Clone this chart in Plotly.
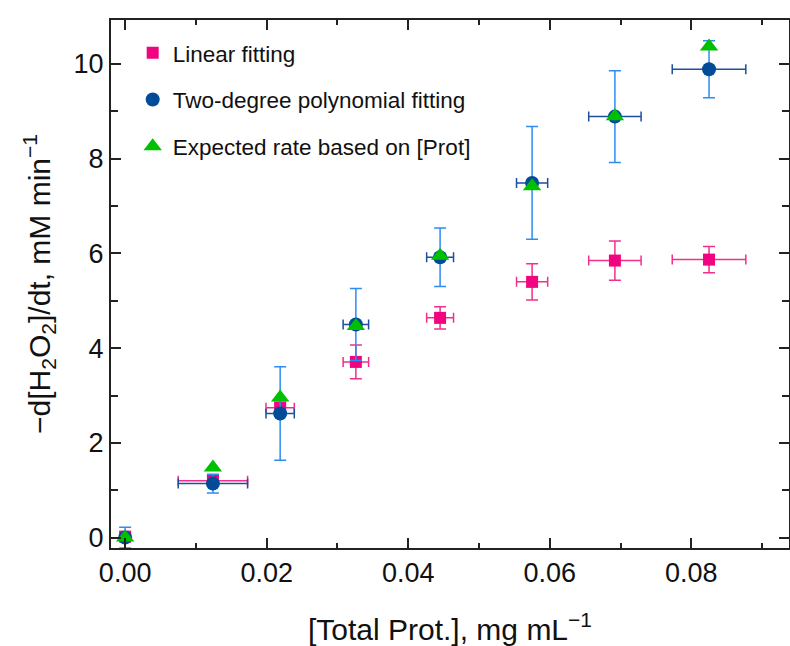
import plotly.graph_objects as go

# Data
prot = [0.0, 0.0124, 0.0219, 0.0326, 0.0445, 0.0575, 0.0692, 0.0825]
prot_err = [0.0, 0.0049, 0.0020, 0.0018, 0.0019, 0.0022, 0.0037, 0.0052]

linear_rate = [0.02, 1.20, 2.74, 3.71, 4.64, 5.40, 5.85, 5.87]
linear_err = [0.05, 0.10, 0.12, 0.355, 0.235, 0.385, 0.415, 0.275]

poly_rate = [0.0, 1.14, 2.62, 4.50, 5.92, 7.49, 8.89, 9.89]
poly_err = [0.22, 0.20, 0.985, 0.76, 0.62, 1.19, 0.97, 0.60]

expected_rate = [0.0, 1.48, 2.96, 4.47, 5.95, 7.42, 8.90, 10.37]

x_ticks = [0.00, 0.02, 0.04, 0.06, 0.08]
y_ticks = [0, 2, 4, 6, 8, 10]

FONT = "Liberation Sans, Arial, sans-serif"
PINK = "#F0047F"
PINK_ERR = "#F0308C"
BLUE = "#004C99"
BLUE_XERR = "#1F4E9A"
BLUE_YERR = "#2E8CF0"
GREEN = "#00C000"

fig = go.Figure()

fig.add_trace(go.Scatter(
    x=prot, y=linear_rate, mode="markers", name="Linear fitting",
    legendgroup="a",
    marker=dict(symbol="square", size=12, color=PINK),
    error_x=dict(type="data", array=prot_err, color=PINK_ERR, thickness=1.5, width=5),
    error_y=dict(type="data", array=linear_err, color=PINK_ERR, thickness=1.5, width=6),
))
fig.add_trace(go.Scatter(
    x=prot, y=poly_rate, mode="markers", name="Two-degree polynomial fitting",
    legendgroup="b",
    marker=dict(symbol="circle", size=14, color=BLUE),
    error_x=dict(type="data", array=prot_err, color=BLUE_XERR, thickness=1.5, width=5),
    error_y=dict(type="data", array=poly_err, color=BLUE_YERR, thickness=1.5, width=6),
))
fig.add_trace(go.Scatter(
    x=prot, y=expected_rate, mode="markers", name="Expected rate based on [Prot]",
    legendgroup="c",
    marker=dict(symbol="triangle-up", size=16, color=GREEN),
))

axis_common = dict(
    showline=True, linecolor="#222222", linewidth=2, mirror="allticks",
    ticks="inside", tickcolor="#222222", tickwidth=1.5, ticklen=10,
    showgrid=False, zeroline=False, automargin=False,
    tickfont=dict(family=FONT, size=27, color="#111111"),
)

fig.update_xaxes(
    range=[-0.002, 0.0938], tickvals=x_ticks, ticktext=[f"{v:.2f}" for v in x_ticks],
    minor=dict(dtick=0.01, tick0=0, ticks="inside", ticklen=5, tickwidth=1.5, tickcolor="#222222"),
    title=dict(text="[Total Prot.], mg mL<sup>\u22121</sup>", font=dict(family=FONT, size=30, color="#111111"), standoff=35),
    **axis_common,
)
fig.update_yaxes(
    range=[-0.22, 10.93], tickvals=y_ticks,
    minor=dict(dtick=1, tick0=0, ticks="inside", ticklen=7, tickwidth=1.5, tickcolor="#222222"),
    title=dict(text="\u2212d[H<sub>2</sub>O<sub>2</sub>]/dt, mM min<sup>\u22121</sup>", font=dict(family=FONT, size=30, color="#111111"), standoff=14),
    **axis_common,
)

fig.update_layout(
    width=790, height=646,
    margin=dict(l=111, r=1, t=20, b=98, autoexpand=False),
    paper_bgcolor="white", plot_bgcolor="white",
    showlegend=True,
    legend=dict(
        x=0.032, y=0.978, xanchor="left", yanchor="top",
        font=dict(family=FONT, size=22.5, color="#111111"),
        bgcolor="rgba(0,0,0,0)", tracegroupgap=14.5,
    ),
)

fig.write_html(
    "out.html",
    config={"displayModeBar": False},
    post_script="document.body.style.margin='0px';document.body.style.overflow='hidden';",
)
